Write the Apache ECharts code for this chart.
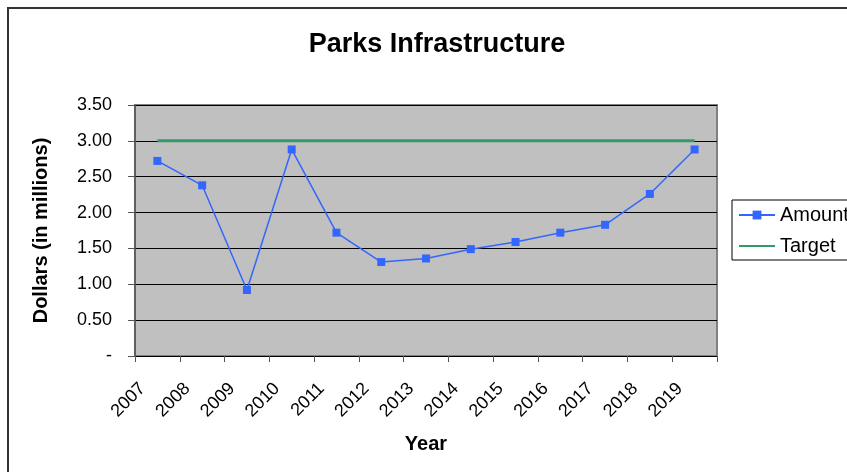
<!DOCTYPE html>
<html>
<head>
<meta charset="utf-8">
<script src="https://cdn.jsdelivr.net/npm/echarts@6/dist/echarts.min.js"></script>
<style>
  html, body { margin: 0; padding: 0; background: #fff; }
  #chart { width: 847px; height: 472px; }
</style>
</head>
<body>
<div id="chart"></div>
<script>
// Years along the category axis
const years = ['2007', '2008', '2009', '2010', '2011', '2012', '2013',
               '2014', '2015', '2016', '2017', '2018', '2019'];
// Yearly spending, dollars in millions
const amount = [2.72, 2.38, 0.92, 2.88, 1.72, 1.31, 1.36, 1.49, 1.59, 1.72, 1.83, 2.26, 2.88];
// Spending target, dollars in millions
const target = [3.00, 3.00, 3.00, 3.00, 3.00, 3.00, 3.00, 3.00, 3.00, 3.00, 3.00, 3.00, 3.00];
// Value axis range and step
const yMin = 0, yMax = 3.5, yStep = 0.5;

const FONT = '"Liberation Sans", Arial, Helvetica, sans-serif';
const chart = echarts.init(document.getElementById('chart'), null, { renderer: 'canvas' });

chart.setOption({
  animation: false,
  backgroundColor: '#ffffff',
  textStyle: { fontFamily: FONT },
  title: {
    text: 'Parks Infrastructure',
    left: 432,
    textAlign: 'center',
    top: 26,
    textStyle: { fontFamily: FONT, fontSize: 27, fontWeight: 'bold', color: '#000' }
  },
  graphic: [{
    type: 'rect',
    shape: { x: 8, y: 8, width: 900, height: 520 },
    style: { fill: 'none', stroke: '#333', lineWidth: 2 },
    silent: true,
    z: 100
  }],
  legend: {
    orient: 'vertical',
    left: 732,
    top: 200,
    padding: [5, 10, 4, 6],
    itemGap: 11,
    itemWidth: 36,
    itemHeight: 11,
    borderColor: '#000',
    borderWidth: 1,
    textStyle: { fontFamily: FONT, fontSize: 20, color: '#000' },
    data: [
      { name: 'Amount' },
      { name: 'Target', itemStyle: { opacity: 0 } }
    ]
  },
  grid: {
    left: 135, top: 105, width: 582, height: 251,
    show: true,
    backgroundColor: '#c0c0c0',
    borderColor: '#808080',
    borderWidth: 2
  },
  xAxis: {
    type: 'category',
    data: years,
    boundaryGap: true,
    name: 'Year',
    nameLocation: 'middle',
    nameGap: 78,
    nameTextStyle: { fontFamily: FONT, fontSize: 20, fontWeight: 'bold', color: '#000' },
    axisLine: { show: true, lineStyle: { color: '#000', width: 1 } },
    axisTick: { show: true, length: 6, lineStyle: { color: '#555' } },
    axisLabel: {
      rotate: 45,
      margin: 15,
      padding: [0, 21, 0, 0],
      fontFamily: FONT,
      fontSize: 18,
      color: '#000',
      interval: 0
    }
  },
  yAxis: {
    type: 'value',
    min: yMin,
    max: yMax,
    interval: yStep,
    name: 'Dollars (in millions)',
    nameLocation: 'middle',
    nameGap: 84,
    nameTextStyle: { fontFamily: FONT, fontSize: 20, fontWeight: 'bold', color: '#000' },
    axisLine: { show: true, lineStyle: { color: '#555', width: 1.5 } },
    axisTick: { show: true, inside: false, length: 7, lineStyle: { color: '#555' } },
    axisLabel: {
      margin: 23,
      fontFamily: FONT,
      fontSize: 18,
      color: '#000',
      formatter: v => (v === 0 ? '-' : v.toFixed(2))
    },
    splitLine: { show: true, lineStyle: { color: '#000', width: 1 } }
  },
  series: [
    {
      name: 'Amount',
      type: 'line',
      data: amount,
      symbol: 'rect',
      symbolSize: 8,
      itemStyle: { color: '#3366ff' },
      lineStyle: { color: '#3366ff', width: 1.5 },
      z: 3
    },
    {
      name: 'Target',
      type: 'line',
      data: target,
      symbol: 'none',
      itemStyle: { color: '#339966' },
      lineStyle: { color: '#339966', width: 3 },
      z: 2
    }
  ]
});
</script>
</body>
</html>
